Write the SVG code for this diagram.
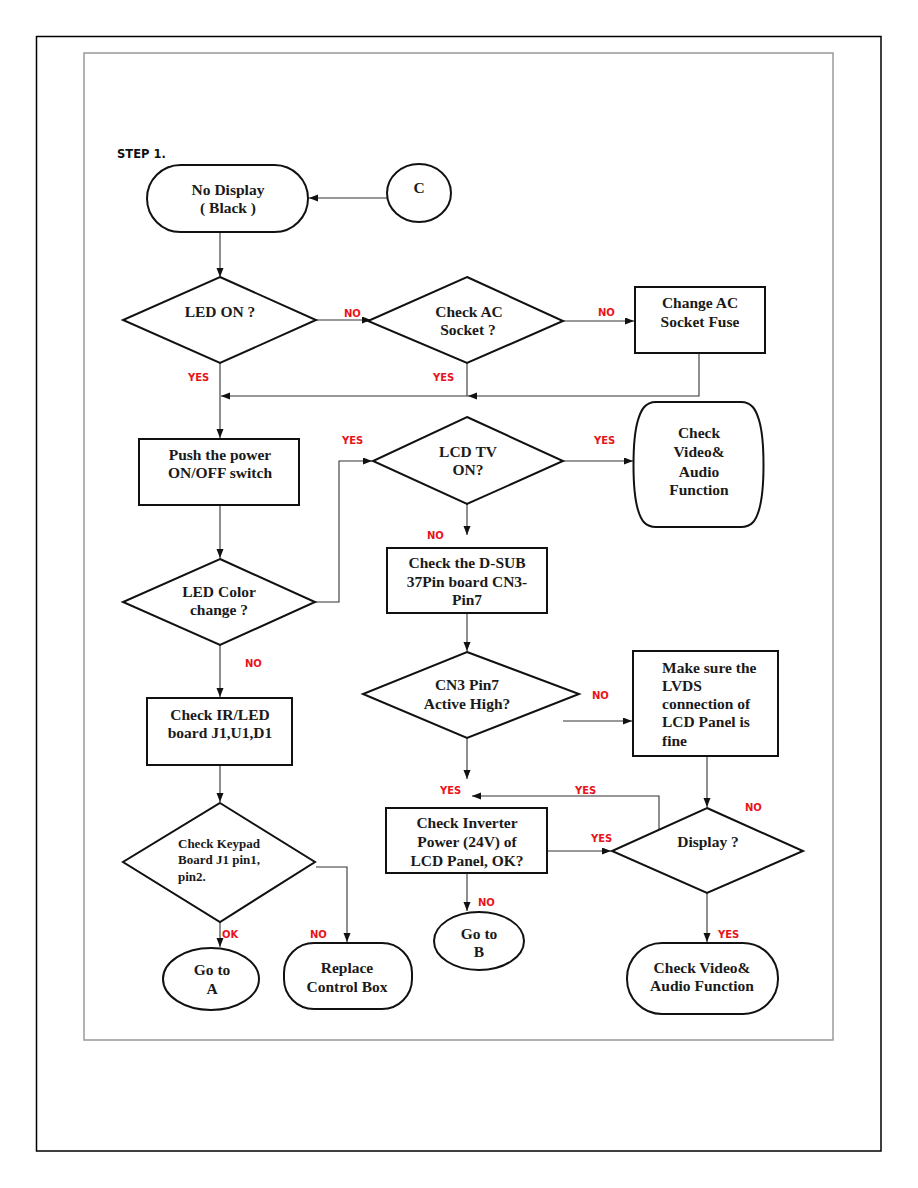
<svg xmlns="http://www.w3.org/2000/svg" width="918" height="1188" viewBox="0 0 918 1188">
<defs>
<marker id="ah" markerUnits="userSpaceOnUse" markerWidth="10" markerHeight="8" refX="9" refY="3.5" orient="auto">
<path d="M0,0 L9,3.5 L0,7 Z" fill="#111"/>
</marker>
<style>
.sh{fill:#fff;stroke:#111;stroke-width:2}
.cn{fill:none;stroke:#333;stroke-width:1.1}
.t{font-family:"Liberation Serif","Times New Roman",serif;font-weight:bold;font-size:15.5px;fill:#1a1a1a;text-anchor:middle}
.tl{text-anchor:start}
.ts{font-size:13px}
.lb{font-family:"DejaVu Sans",Verdana,sans-serif;font-weight:bold;font-size:10px;fill:#e8141b}
.st{font-family:"DejaVu Sans",Verdana,sans-serif;font-weight:bold;font-size:11.5px;fill:#111}
</style>
</defs>
<rect x="0" y="0" width="918" height="1188" fill="#fff"/>
<rect x="36.5" y="36.5" width="844.5" height="1114.5" fill="none" stroke="#000" stroke-width="1.5"/>
<rect x="84" y="53" width="749" height="987" fill="none" stroke="#999" stroke-width="1.5"/>
<text class="st" x="117" y="158">STEP 1.</text>

<g id="connectors">
<path class="cn" d="M387 198 H309" marker-end="url(#ah)"/>
<path class="cn" d="M220 232 V277" marker-end="url(#ah)"/>
<path class="cn" d="M316 320 H371" marker-end="url(#ah)"/>
<path class="cn" d="M563 321 H634" marker-end="url(#ah)"/>
<path class="cn" d="M699 353 V396 H468" marker-end="url(#ah)"/>
<path class="cn" d="M468 396 H221" marker-end="url(#ah)"/>
<path class="cn" d="M467 363 V396"/>
<path class="cn" d="M220 363 V438" marker-end="url(#ah)"/>
<path class="cn" d="M220 505 V558" marker-end="url(#ah)"/>
<path class="cn" d="M315 602 H339 V461 H372" marker-end="url(#ah)"/>
<path class="cn" d="M563 461 H633" marker-end="url(#ah)"/>
<path class="cn" d="M467 504 V535" marker-end="url(#ah)"/>
<path class="cn" d="M467 613 V651" marker-end="url(#ah)"/>
<path class="cn" d="M563 721 H632" marker-end="url(#ah)"/>
<path class="cn" d="M467 738 V779" marker-end="url(#ah)"/>
<path class="cn" d="M659 830 V796 H472" marker-end="url(#ah)"/>
<path class="cn" d="M707 756 V807" marker-end="url(#ah)"/>
<path class="cn" d="M547 851 H611" marker-end="url(#ah)"/>
<path class="cn" d="M467 873 V911" marker-end="url(#ah)"/>
<path class="cn" d="M707 893 V942" marker-end="url(#ah)"/>
<path class="cn" d="M220 645 V697" marker-end="url(#ah)"/>
<path class="cn" d="M220 765 V802" marker-end="url(#ah)"/>
<path class="cn" d="M316 867 H347 V942" marker-end="url(#ah)"/>
<path class="cn" d="M220 922 V947" marker-end="url(#ah)"/>
</g>

<g id="labels">
<text class="lb" x="344" y="317">NO</text>
<text class="lb" x="188" y="381">YES</text>
<text class="lb" x="433" y="381">YES</text>
<text class="lb" x="598" y="316">NO</text>
<text class="lb" x="342" y="444">YES</text>
<text class="lb" x="594" y="444">YES</text>
<text class="lb" x="427" y="539">NO</text>
<text class="lb" x="245" y="667">NO</text>
<text class="lb" x="592" y="699">NO</text>
<text class="lb" x="440" y="794">YES</text>
<text class="lb" x="575" y="794">YES</text>
<text class="lb" x="591" y="842">YES</text>
<text class="lb" x="745" y="811">NO</text>
<text class="lb" x="478" y="906">NO</text>
<text class="lb" x="718" y="938">YES</text>
<text class="lb" x="222" y="938">OK</text>
<text class="lb" x="310" y="938">NO</text>
</g>

<g id="no-display">
<rect class="sh" x="147" y="165" width="161" height="67" rx="33.5"/>
<text class="t" x="228" y="195">No Display</text>
<text class="t" x="228" y="213">( Black )</text>
</g>
<g id="c">
<ellipse class="sh" cx="419" cy="193" rx="32" ry="29"/>
<text class="t" x="419" y="193">C</text>
</g>
<g id="led-on">
<polygon class="sh" points="220,277 316,320 220,363 123,320"/>
<text class="t" x="220" y="317">LED ON ?</text>
</g>
<g id="check-ac">
<polygon class="sh" points="467,277 563,321 467,363 368,321"/>
<text class="t" x="469" y="317">Check AC</text>
<text class="t" x="468" y="335">Socket  ?</text>
</g>
<g id="change-ac">
<rect class="sh" x="635" y="287" width="130" height="66"/>
<text class="t" x="700" y="308">Change AC</text>
<text class="t" x="700" y="327">Socket Fuse</text>
</g>
<g id="push-power">
<rect class="sh" x="139" y="439" width="160" height="66"/>
<text class="t" x="220" y="460">Push the power</text>
<text class="t" x="220" y="478">ON/OFF switch</text>
</g>
<g id="lcd-tv-on">
<polygon class="sh" points="467,417 563,461 467,504 373,461"/>
<text class="t" x="468" y="457">LCD TV</text>
<text class="t" x="468" y="475">ON?</text>
</g>
<g id="check-video-1">
<path class="sh" d="M656 402 H741 C752 402 756 410 759 420 C765 440 765 490 759 510 C756 520 752 527 741 527 H656 C645 527 641 520 638 510 C632 490 632 440 638 420 C641 410 645 402 656 402 Z"/>
<text class="t" x="699" y="438">Check</text>
<text class="t" x="699" y="457">Video&amp;</text>
<text class="t" x="699" y="477">Audio</text>
<text class="t" x="699" y="495">Function</text>
</g>
<g id="led-color">
<polygon class="sh" points="220,559 315,602 220,645 123,602"/>
<text class="t" x="219" y="597">LED Color</text>
<text class="t" x="219" y="615">change ?</text>
</g>
<g id="check-dsub">
<rect class="sh" x="387" y="548" width="160" height="65"/>
<text class="t" x="467" y="568">Check the D-SUB</text>
<text class="t" x="467" y="587">37Pin board CN3-</text>
<text class="t" x="467" y="605">Pin7</text>
</g>
<g id="cn3">
<polygon class="sh" points="467,652 579,694 467,738 363,694"/>
<text class="t" x="467" y="690">CN3 Pin7</text>
<text class="t" x="467" y="709">Active High?</text>
</g>
<g id="make-sure">
<rect class="sh" x="633" y="651" width="145" height="105"/>
<text class="t tl" x="662" y="673">Make sure the</text>
<text class="t tl" x="662" y="691">LVDS</text>
<text class="t tl" x="662" y="709">connection of</text>
<text class="t tl" x="662" y="727">LCD Panel is</text>
<text class="t tl" x="662" y="746">fine</text>
</g>
<g id="check-ir">
<rect class="sh" x="147" y="698" width="145" height="67"/>
<text class="t" x="220" y="720">Check IR/LED</text>
<text class="t" x="220" y="738">board J1,U1,D1</text>
</g>
<g id="check-keypad">
<polygon class="sh" points="220,803 315,862 220,922 123,862"/>
<text class="t tl ts" x="178" y="848">Check Keypad</text>
<text class="t tl ts" x="178" y="864">Board J1 pin1,</text>
<text class="t tl ts" x="178" y="881">pin2.</text>
</g>
<g id="go-to-a">
<ellipse class="sh" cx="211" cy="979" rx="48" ry="31"/>
<text class="t" x="212" y="975">Go to</text>
<text class="t" x="212" y="994">A</text>
</g>
<g id="replace-control-box">
<rect class="sh" x="284" y="943" width="128" height="66" rx="30"/>
<text class="t" x="347" y="973">Replace</text>
<text class="t" x="347" y="992">Control Box</text>
</g>
<g id="check-inverter">
<rect class="sh" x="386" y="808" width="161" height="65"/>
<text class="t" x="467" y="828">Check Inverter</text>
<text class="t" x="467" y="847">Power (24V) of</text>
<text class="t" x="467" y="866">LCD Panel, OK?</text>
</g>
<g id="display">
<polygon class="sh" points="707,808 803,851 707,893 612,851"/>
<text class="t" x="708" y="847">Display ?</text>
</g>
<g id="go-to-b">
<ellipse class="sh" cx="479" cy="941" rx="45" ry="29"/>
<text class="t" x="479" y="939">Go to</text>
<text class="t" x="479" y="957">B</text>
</g>
<g id="check-video-2">
<rect class="sh" x="627" y="943" width="151" height="71" rx="35"/>
<text class="t" x="702" y="973">Check Video&amp;</text>
<text class="t" x="702" y="991">Audio Function</text>
</g>
</svg>
